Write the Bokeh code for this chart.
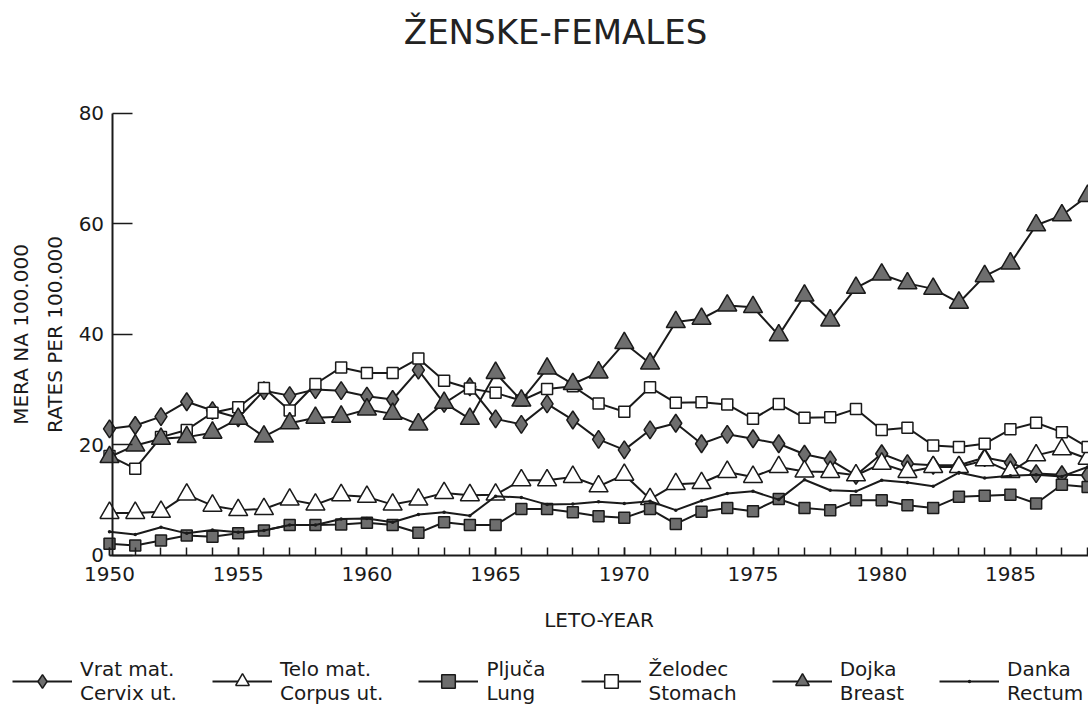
from bokeh.plotting import figure
from bokeh.models import FixedTicker, Legend, LegendItem, Range1d, LinearAxis, Label
from bokeh.embed import file_html
from bokeh.resources import INLINE

years = list(range(1950, 1989))

cervix = [22.9, 23.5, 25.1, 27.8, 26.2, 24.9, 29.8, 28.9, 30.0, 29.8,
          28.8, 28.2, 33.5, 27.5, 30.5, 24.7, 23.7, 27.4, 24.5, 21.0,
          19.1, 22.7, 23.9, 20.2, 21.9, 21.1, 20.2, 18.3, 17.3, 14.5,
          18.4, 16.6, 16.3, 16.3, 17.7, 16.8, 14.8, 14.6, 14.5]
corpus = [7.7, 7.7, 7.9, 11.0, 9.0, 8.2, 8.4, 10.1, 9.2, 10.9,
          10.6, 9.2, 10.1, 11.3, 10.9, 11.0, 13.6, 13.6, 14.2, 12.5,
          14.6, 10.2, 12.9, 13.1, 15.1, 14.2, 16.0, 15.2, 15.1, 14.5,
          16.6, 15.1, 16.0, 16.0, 17.2, 15.1, 18.1, 19.2, 17.5]
lung = [2.1, 1.8, 2.7, 3.6, 3.4, 4.0, 4.5, 5.5, 5.5, 5.6,
        5.9, 5.5, 4.1, 6.0, 5.5, 5.5, 8.4, 8.4, 7.8, 7.1,
        6.8, 8.4, 5.7, 7.9, 8.6, 8.0, 10.2, 8.6, 8.2, 10.0,
        10.0, 9.1, 8.6, 10.6, 10.8, 11.0, 9.4, 12.8, 12.4]
stomach = [18.0, 15.7, 21.4, 22.7, 25.8, 26.8, 30.3, 26.2, 31.0, 34.0,
           33.0, 33.0, 35.6, 31.6, 30.2, 29.4, 28.0, 30.1, 30.6, 27.5,
           26.0, 30.4, 27.6, 27.7, 27.3, 24.7, 27.4, 24.9, 25.0, 26.5,
           22.7, 23.1, 19.9, 19.6, 20.2, 22.8, 24.0, 22.3, 19.6]
breast = [17.8, 19.9, 21.1, 21.4, 22.2, 24.7, 21.5, 23.9, 24.9, 25.1,
          26.4, 25.6, 23.7, 27.6, 24.7, 33.0, 28.0, 33.8, 31.0, 33.1,
          38.4, 34.7, 42.2, 42.8, 45.2, 44.9, 39.8, 47.0, 42.5, 48.4,
          50.8, 49.2, 48.2, 45.7, 50.5, 52.8, 59.7, 61.5, 65.0]
rectum = [4.3, 3.8, 5.1, 4.0, 4.6, 4.2, 4.5, 5.5, 5.5, 6.6,
          6.7, 6.0, 7.4, 7.8, 7.2, 10.7, 10.5, 9.2, 9.3, 9.7,
          9.4, 9.8, 8.2, 9.9, 11.2, 11.6, 10.1, 13.7, 11.8, 11.6,
          13.6, 13.2, 12.5, 15.0, 14.0, 14.4, 14.6, 14.3, 16.0]

labels = ["Vrat mat.\nCervix ut.", "Telo mat.\nCorpus ut.", "Plju\u010da\nLung",
          "\u017delodec\nStomach", "Dojka\nBreast", "Danka\nRectum"]
major_years = [1950, 1955, 1960, 1965, 1970, 1975, 1980, 1985]
y_ticks = [0, 20, 40, 60, 80]
title_text = "\u017dENSKE-FEMALES"

FONT = "DejaVu Sans"
INK = "#1a1a1a"
GRAY = "#6e6e6e"

# view window: whole canvas is the frame; axes are fixed inside it
X0, X1 = 1945.765, 1988.034
Y0, Y1 = -28.57, 100.34

p = figure(width=1088, height=713, output_backend="svg", toolbar_location=None,
           x_range=Range1d(X0, X1), y_range=Range1d(Y0, Y1),
           x_axis_location=None, y_axis_location=None, min_border=0)
p.title = None
p.outline_line_color = None
p.grid.visible = False

p.add_layout(Label(x=1967.33, y=94.56, text=title_text, text_font=FONT,
                   text_font_size="34px", text_color="#222222",
                   text_align="center", text_baseline="middle"))

xa = LinearAxis(fixed_location=0, bounds=(1950, 1989))
xa.ticker = FixedTicker(ticks=major_years, minor_ticks=years)
xa.major_tick_in = 8
xa.major_tick_out = 0
xa.minor_tick_in = 8
xa.minor_tick_out = 0
xa.axis_line_width = 2
xa.axis_line_color = INK
xa.major_tick_line_color = INK
xa.minor_tick_line_color = INK
xa.major_tick_line_width = 1.5
xa.minor_tick_line_width = 1.5
xa.major_label_text_font = FONT
xa.major_label_text_font_size = "20px"
xa.major_label_text_color = INK
xa.major_label_standoff = 12
xa.axis_label = "LETO-YEAR"
xa.axis_label_text_font = FONT
xa.axis_label_text_font_size = "20px"
xa.axis_label_text_font_style = "normal"
xa.axis_label_text_color = INK
xa.axis_label_standoff = 23
p.add_layout(xa, "below")

ya = LinearAxis(fixed_location=1950.1, bounds=(0, 80))
ya.ticker = FixedTicker(ticks=y_ticks)
ya.major_tick_in = 20
ya.major_tick_out = 0
ya.minor_tick_in = 0
ya.minor_tick_out = 0
ya.axis_line_width = 2
ya.axis_line_color = INK
ya.major_tick_line_color = INK
ya.major_tick_line_width = 1.5
ya.major_label_text_font = FONT
ya.major_label_text_font_size = "20px"
ya.major_label_text_color = INK
ya.major_label_standoff = 8
ya.axis_label = "MERA NA 100.000\nRATES PER 100.000"
ya.axis_label_text_font = FONT
ya.axis_label_text_font_size = "20px"
ya.axis_label_text_font_style = "normal"
ya.axis_label_text_color = INK
ya.axis_label_text_line_height = 1.4
ya.axis_label_standoff = 9
p.add_layout(ya, "left")

series = [
    (cervix, "diamond", 18, GRAY),
    (corpus, "triangle", 19, "white"),
    (lung, "square", 11, GRAY),
    (stomach, "square", 11, "white"),
    (breast, "triangle", 19, GRAY),
    (rectum, "dot", 14, INK),
]

items = []
for (vals, marker, size, fill), lab in zip(series, labels):
    lr = p.line(years, vals, line_color=INK, line_width=2)
    sr = p.scatter(years, vals, marker=marker, size=size,
                   fill_color=fill, line_color=INK, line_width=1.5)
    items.append(LegendItem(label=lab, renderers=[lr, sr]))

legend = Legend(items=items, orientation="horizontal", location=(12, 8),
                glyph_width=60, glyph_height=34, label_standoff=8, spacing=35,
                padding=0, margin=0, border_line_color=None,
                background_fill_alpha=0, label_text_font=FONT,
                label_text_font_size="20px", label_text_color=INK,
                label_text_line_height=1.25)
p.add_layout(legend, "center")

open("out.html", "w").write(file_html(p, INLINE))
